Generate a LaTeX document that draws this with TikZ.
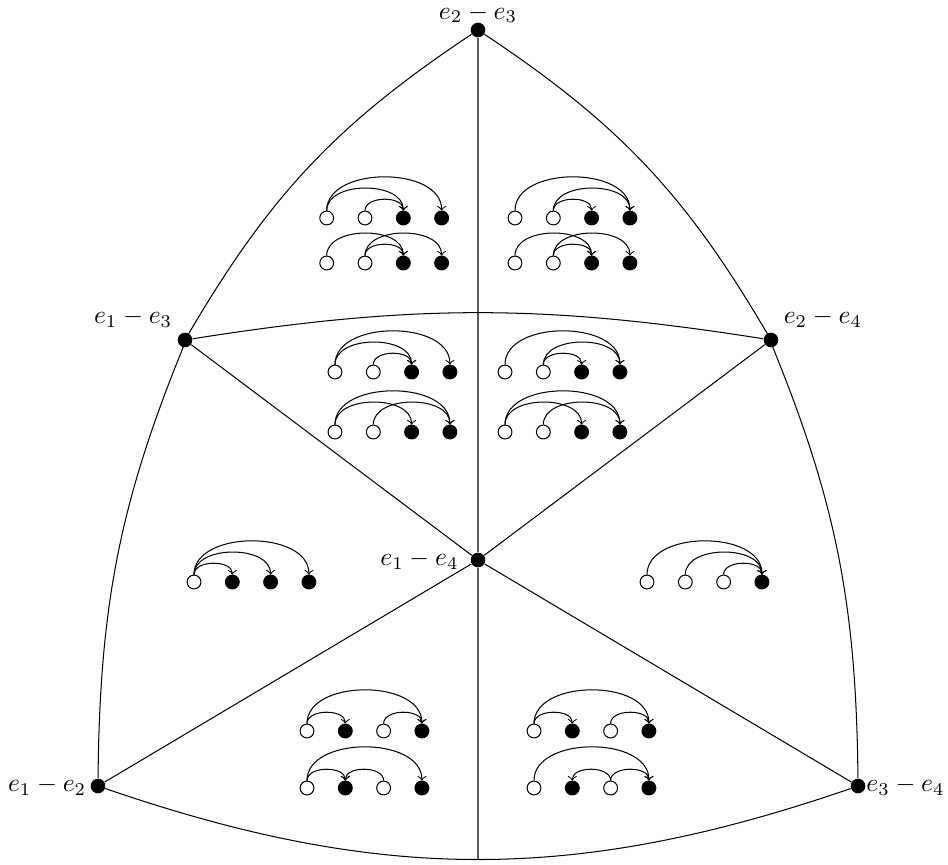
\documentclass[tikz,border=0pt]{standalone}
\usepackage{amsmath}
\usetikzlibrary{positioning}
\tikzset{
  vtx/.style={circle,fill=black,inner sep=0pt,minimum size=5.7pt},
  rw/.style={circle,draw,fill=white,inner sep=0pt,minimum size=5.4pt},
  rb/.style={rw,fill=black},
  hop/.style={->,out=90,in=90},
}
% four roots in a row: name, position of the first one, four styles
\newcommand{\dotrow}[6]{%
  \node[#3] (#1a) at (#2) {};
  \node[#4,right=of #1a] (#1b) {};
  \node[#5,right=of #1b] (#1c) {};
  \node[#6,right=of #1c] (#1d) {};
}

\begin{document}
\begin{tikzpicture}[x=0.39pt,y=-0.39pt,node distance=9.14pt]
  \useasboundingbox (0,0) rectangle (948,865);
  \node[vtx,label={[inner sep=0.5pt,label distance=-1pt]above:$e_2-e_3$}] (v23) at (478,30) {};
  \node[vtx,label={[label distance=-1pt]above left:$e_1-e_3$}] (v13) at (185,340) {};
  \node[vtx,label={[label distance=-1pt]above right:$e_2-e_4$}] (v24) at (771,340) {};
  \node[vtx,label={[label distance=1pt]left:$e_1-e_4$}] (v14) at (478,560) {};
  \node[vtx,label={[label distance=-2pt]left:$e_1-e_2$}] (v12) at (98,786) {};
  \node[vtx,label={[label distance=-3.3pt]right:$e_3-e_4$}] (v34) at (858,786) {};
  \draw (v23) to[bend right=13] (v13) to[bend right=11] (v12);
  \draw (v23) to[bend left=13] (v24) to[bend left=11] (v34);
  \draw (v12) to[bend right=19] coordinate[pos=0.5] (bot) (v34);
  \draw (v13) to[bend left=9] (v24);
  \draw (v13) -- (v14) -- (v34);
  \draw (v24) -- (v14) -- (v12);
  \draw (v23) -- (v14) -- (bot);
  % upper chambers
  \dotrow{ta}{326.7,218}{rw}{rw}{rb}{rb}
  \draw[hop] (taa) to (tac);
  \draw[hop] (taa) to (tad);
  \draw[hop] (tab) to (tac);
  \dotrow{tb}{326.7,263}{rw}{rw}{rb}{rb}
  \draw[hop] (tba) to (tbc);
  \draw[hop] (tbb) to (tbc);
  \draw[hop] (tbb) to (tbd);
  \dotrow{tc}{515,218}{rw}{rw}{rb}{rb}
  \draw[hop] (tca) to (tcd);
  \draw[hop] (tcb) to (tcd);
  \draw[hop] (tcb) to (tcc);
  \dotrow{td}{515,263}{rw}{rw}{rb}{rb}
  \draw[hop] (tda) to (tdc);
  \draw[hop] (tdb) to (tdc);
  \draw[hop] (tdb) to (tdd);
  % middle chambers
  \dotrow{ma}{335,372}{rw}{rw}{rb}{rb}
  \draw[hop] (maa) to (mac);
  \draw[hop] (maa) to (mad);
  \draw[hop] (mab) to (mac);
  \dotrow{mb}{335,432}{rw}{rw}{rb}{rb}
  \draw[hop] (mba) to (mbc);
  \draw[hop] (mba) to (mbd);
  \draw[hop] (mbb) to (mbd);
  \dotrow{mc}{505,372}{rw}{rw}{rb}{rb}
  \draw[hop] (mca) to (mcd);
  \draw[hop] (mcb) to (mcd);
  \draw[hop] (mcb) to (mcc);
  \dotrow{md}{505,432}{rw}{rw}{rb}{rb}
  \draw[hop] (mda) to (mdc);
  \draw[hop] (mda) to (mdd);
  \draw[hop] (mdb) to (mdd);
  % side chambers
  \dotrow{la}{194,582}{rw}{rb}{rb}{rb}
  \draw[hop] (laa) to (lab);
  \draw[hop] (laa) to (lac);
  \draw[hop] (laa) to (lad);
  \dotrow{ra}{647,582}{rw}{rw}{rw}{rb}
  \draw[hop] (raa) to (rad);
  \draw[hop] (rab) to (rad);
  \draw[hop] (rac) to (rad);
  % lower chambers
  \dotrow{ba}{307,731}{rw}{rb}{rw}{rb}
  \draw[hop] (baa) to (bab);
  \draw[hop] (baa) to (bad);
  \draw[hop] (bac) to (bad);
  \dotrow{bb}{307,788}{rw}{rb}{rw}{rb}
  \draw[hop] (bba) to (bbb);
  \draw[hop] (bba) to (bbd);
  \draw[hop] (bbc) to (bbb);
  \dotrow{bc}{534,731}{rw}{rb}{rw}{rb}
  \draw[hop] (bca) to (bcb);
  \draw[hop] (bca) to (bcd);
  \draw[hop] (bcc) to (bcd);
  \dotrow{bd}{534,788}{rw}{rb}{rw}{rb}
  \draw[hop] (bda) to (bdd);
  \draw[hop] (bdc) to (bdb);
  \draw[hop] (bdc) to (bdd);
\end{tikzpicture}
\end{document}
